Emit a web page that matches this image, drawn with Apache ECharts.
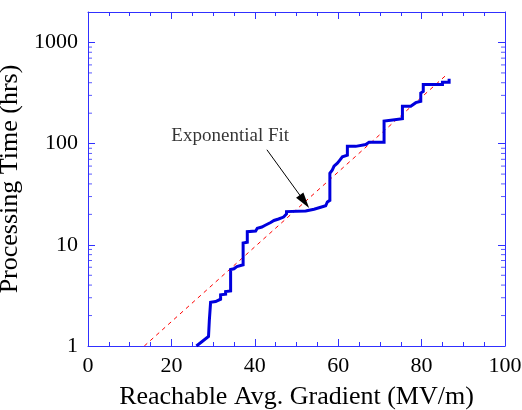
<!DOCTYPE html>
<html>
<head>
<meta charset="utf-8">
<script src="https://cdn.jsdelivr.net/npm/echarts@6/dist/echarts.min.js"></script>
<style>html,body{margin:0;padding:0;background:#fff}#c{width:522px;height:410px}</style>
</head>
<body>
<div id="c"></div>
<script>
// Measured processing-time curve (vertices of the step trace)
const gradient = [26.0, 28.9, 29.1, 29.4, 30.6, 30.6, 31.8, 31.8, 33.0, 33.0, 34.2, 34.2, 35.0, 35.0, 35.7, 36.0, 37.2, 37.2, 38.2, 38.2, 40.2, 40.6, 41.7, 42.5, 42.5, 43.8, 43.8, 44.6, 45.7, 46.9, 47.0, 47.6, 47.6, 52.2, 54.2, 55.8, 57.0, 57.4, 58.0, 58.0, 58.6, 59.0, 59.8, 60.3, 61.0, 62.2, 62.2, 64.2, 64.2, 66.6, 67.4, 71.0, 71.0, 72.6, 72.6, 75.4, 75.4, 77.4, 77.8, 78.6, 79.8, 79.8, 80.4, 80.4, 85.0, 85.0, 86.6, 86.6];
const hours    = [1.0, 1.24, 1.8, 2.7, 2.75, 2.86, 2.9, 3.2, 3.25, 3.45, 3.5, 5.7, 5.8, 6.0, 6.1, 6.3, 6.35, 10.4, 10.6, 13.5, 13.7, 14.6, 15.0, 15.6, 16.1, 16.6, 17.0, 17.4, 18.0, 18.8, 19.3, 20.2, 21.3, 21.6, 22.5, 23.5, 24.3, 26.5, 27.5, 51, 55, 60, 64, 68, 74, 77, 94, 94, 98, 98, 103, 103, 167, 170, 176, 176, 234, 234, 242, 254, 262, 316, 328, 385, 385, 405, 405, 437];
// Exponential fit (straight line on log scale) end points
const fitX = [13.5, 86.0];
const fitY = [1.0, 480];
// Axis ticks
const xTicks = [0, 20, 40, 60, 80, 100];
const yMajor = [1, 10, 100, 1000];
const yMinor = [2,3,4,5,6,7,8,9,20,30,40,50,60,70,80,90,200,300,400,500,600,700,800,900];
// Annotation
const annoText = 'Exponential Fit';
const annoTextPos = [34.1, 118];
const arrowFrom = [42.9, 87];
const arrowTo = [51.9, 26.8];

const AX = '#3030ff';
const FONT = "'Liberation Serif','Times New Roman',serif";
const curve = gradient.map((g, i) => [g, hours[i]]);
const fit = fitX.map((g, i) => [g, fitY[i]]);
const xMin = xTicks[0], xMax = xTicks[xTicks.length - 1];
const isPow10 = v => Math.abs(Math.log10(v) - Math.round(Math.log10(v))) < 1e-6;

const xBase = {
  type: 'value', min: xMin, max: xMax, interval: 20,
  axisLine: {show: true, onZero: false, lineStyle: {color: AX, width: 1}},
  axisTick: {show: true, inside: true, length: 7, lineStyle: {color: AX}},
  minorTick: {show: true, splitNumber: 4, length: 4, lineStyle: {color: AX}},
  splitLine: {show: false}
};
const yBase = {
  type: 'log', logBase: 10, min: 1, max: 2000,
  axisLine: {show: true, onZero: false, lineStyle: {color: AX, width: 1}},
  axisTick: {show: true, inside: true, length: 7, lineStyle: {color: AX}},
  minorTick: {show: false},
  splitLine: {show: false}
};
const minorTickSeries = (xv, off) => ({
  type: 'scatter', xAxisIndex: 0, yAxisIndex: 0, silent: true, clip: false,
  data: yMinor.map(v => [xv, v]),
  symbol: 'rect', symbolSize: [4, 1], symbolOffset: [off, 0],
  itemStyle: {color: AX}, z: 5
});

const chart = echarts.init(document.getElementById('c'), null, {renderer: 'canvas'});
chart.setOption({
  animation: false,
  backgroundColor: '#fff',
  grid: {left: 88, right: 17, top: 12, bottom: 64, containLabel: false, outerBoundsMode: 'none'},
  xAxis: [
    Object.assign({}, xBase, {
      position: 'bottom',
      name: 'Reachable Avg. Gradient (MV/m)', nameLocation: 'middle', nameGap: 38,
      nameTextStyle: {fontFamily: FONT, fontSize: 26, color: '#000'},
      axisLabel: {show: true, margin: 9, fontFamily: FONT, fontSize: 22, color: '#000'}
    }),
    Object.assign({}, xBase, {position: 'top', axisLabel: {show: false}})
  ],
  yAxis: [
    Object.assign({}, yBase, {
      position: 'left',
      name: 'Processing Time (hrs)', nameLocation: 'middle', nameGap: 55,
      nameTextStyle: {fontFamily: FONT, fontSize: 26, color: '#000'},
      axisLabel: {show: true, margin: 10, fontFamily: FONT, fontSize: 22, color: '#000',
        formatter: v => (isPow10(v) && yMajor.indexOf(Math.round(v)) >= 0) ? String(Math.round(v)) : ''}
    }),
    Object.assign({}, yBase, {position: 'right', axisLabel: {show: false}})
  ],
  series: [
    minorTickSeries(xMin, 2),
    minorTickSeries(xMax, -2),
    {
      type: 'line', data: fit, showSymbol: false, symbol: 'none',
      lineStyle: {color: '#ff0000', width: 1, type: [4, 4]}, z: 3
    },
    {
      type: 'line', data: curve, showSymbol: false, symbol: 'none',
      lineStyle: {color: '#0000dd', width: 3, join: 'miter'}, z: 4
    },
    {
      type: 'scatter', data: [annoTextPos], symbolSize: 0, silent: true,
      label: {show: true, position: 'inside', formatter: annoText, fontFamily: FONT, fontSize: 19, color: '#000'},
      markLine: {
        silent: true, symbol: ['none', 'triangle'], symbolSize: [9, 16],
        lineStyle: {color: '#000', width: 1, type: 'solid'},
        label: {show: false},
        data: [[{coord: arrowFrom}, {coord: arrowTo}]]
      }
    }
  ]
});
</script>
</body>
</html>
